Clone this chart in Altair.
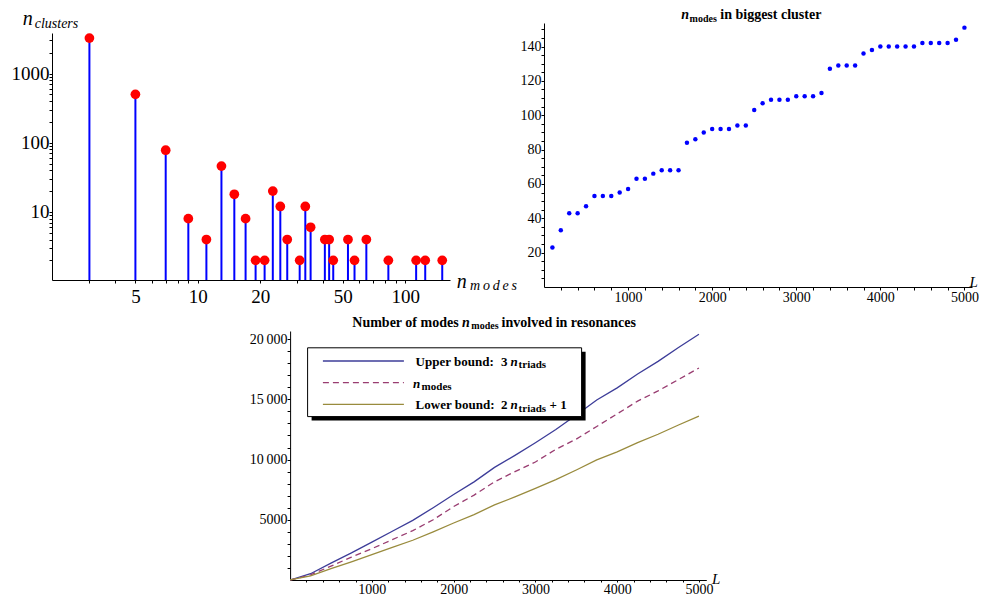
import altair as alt
import pandas as pd

FONT = "Liberation Serif"

# ---------------- Panel A: n_clusters vs n_modes (log-log stem plot)
cluster_modes = [3, 5, 7, 9, 11, 13, 15, 17, 19, 21, 23, 25, 27, 31, 33, 35,
                 41, 43, 45, 53, 57, 65, 83, 113, 125, 151]
cluster_counts = [3250, 500, 78, 8, 4, 46, 18, 8, 2, 2, 20, 12, 4, 2, 12, 6,
                  4, 4, 2, 4, 2, 4, 2, 2, 2, 2]
A_x_major = [5, 10, 20, 50, 100]
A_x_minor = [3, 4, 6, 7, 8, 9, 30, 40, 60, 70, 80, 90]
A_y_major = [10, 100, 1000]
A_y_minor = [2, 3, 4, 5, 6, 7, 8, 9, 20, 30, 40, 50, 60, 70, 80, 90,
             200, 300, 400, 500, 600, 700, 800, 900, 2000, 3000]
A_x_domain = [1.98, 164.6]
A_y_domain = [1.04, 3850]

# ---------------- Panel B: n_modes in biggest cluster vs L
L_steps = [100, 200, 300, 400, 500, 600, 700, 800, 900, 1000,
           1100, 1200, 1300, 1400, 1500, 1600, 1700, 1800, 1900, 2000,
           2100, 2200, 2300, 2400, 2500, 2600, 2700, 2800, 2900, 3000,
           3100, 3200, 3300, 3400, 3500, 3600, 3700, 3800, 3900, 4000,
           4100, 4200, 4300, 4400, 4500, 4600, 4700, 4800, 4900, 5000]
biggest_cluster = [23, 33, 43, 43, 47, 53, 53, 53, 55, 57,
                   63, 63, 66, 68, 68, 68, 84, 86, 90, 92,
                   92, 92, 94, 94, 103, 107, 109, 109, 109, 111,
                   111, 111, 113, 127, 129, 129, 129, 136, 138, 140,
                   140, 140, 140, 140, 142, 142, 142, 142, 144, 151]
B_x_domain = [0, 5090]
B_y_domain = [0, 153.7]
B_x_ticks = [v for v in range(200, 5001, 200)]
B_y_ticks = [v for v in range(5, 151, 5)]

# ---------------- Panel C: number of modes involved in resonances
L_res = [0, 250, 500, 750, 1000, 1250, 1500, 1750, 2000, 2250, 2500,
         2750, 3000, 3250, 3500, 3750, 4000, 4250, 4500, 4750, 5000]
upper_bound = [0, 520, 1400, 2250, 3150, 4050, 4950, 6000, 7100, 8150, 9350,
               10350, 11400, 12500, 13700, 14950, 15950, 17100, 18150, 19300, 20400]
n_modes = [0, 430, 1150, 1900, 2600, 3350, 4100, 5000, 6100, 7050, 8150,
           9000, 9800, 10850, 11700, 12750, 13800, 14850, 15700, 16650, 17600]
lower_bound = [1, 350, 935, 1500, 2100, 2700, 3300, 4000, 4735, 5435, 6235,
               6900, 7600, 8335, 9135, 9970, 10635, 11400, 12100, 12870, 13600]
C_x_domain = [0, 5090]
C_y_domain = [0, 20675]
C_x_ticks = [v for v in range(200, 5001, 200)]
C_y_ticks = [v for v in range(1000, 20001, 1000)]

C_UPPER = "#3d3d99"
C_MODES = "#993d71"
C_LOWER = "#998b3d"

# panel C sits in the second grid column; its plot starts this far left of it
C_SHIFT = -253.9
C_WIDTH = 416.2
C_HEIGHT = 249

one = pd.DataFrame({"k": [0]})


def make_axis(values, test, text_expr, orient, size, pad, offset=0, tick=3):
    return alt.Axis(
        values=values,
        labelExpr=f"({test}) ? ({text_expr}) : ''",
        orient=orient, title=None, grid=False, offset=offset,
        ticks=True, tickSize=tick, tickWidth=1, tickColor="black",
        domain=True, domainColor="black", domainWidth=1,
        labelColor="black", labelFont=FONT, labelFontSize=size,
        labelPadding=pad, labelFlush=False, labelOverlap=False,
    )


def label(x, y, s, size, weight="normal", style="normal", align="left"):
    return alt.Chart(one).mark_text(
        text=s, font=FONT, fontSize=size, fontWeight=weight, fontStyle=style,
        align=align, baseline="alphabetic", color="black",
    ).encode(x=alt.value(x), y=alt.value(y))


def box(x1, y1, x2, y2, fill, stroke=None):
    kw = dict(fill=fill, opacity=1)
    if stroke is not None:
        kw["stroke"] = stroke
        kw["strokeWidth"] = 1
    return alt.Chart(one).mark_rect(**kw).encode(
        x=alt.value(x1), x2=alt.value(x2), y=alt.value(y1), y2=alt.value(y2))


def legend_line(y, color, dash=None):
    kw = dict(color=color, strokeWidth=1.3)
    if dash is not None:
        kw["strokeDash"] = dash
    return alt.Chart(one).mark_rule(**kw).encode(
        x=alt.value(32.8 + C_SHIFT), x2=alt.value(113.8 + C_SHIFT), y=alt.value(y))


def clabel(x, y, s, size, weight="normal", style="normal", align="left"):
    return label(x + C_SHIFT, y, s, size, weight, style, align)


# ---------------- Panel A chart
dfA = pd.DataFrame({"modes": cluster_modes, "count": cluster_counts})
xA = alt.X("modes:Q",
           scale=alt.Scale(type="log", domain=A_x_domain, nice=False),
           axis=make_axis(A_x_major + A_x_minor,
                          f"indexof({A_x_major}, datum.value) >= 0",
                          "'' + datum.value", "bottom", 19, 4.5))
yA = alt.Y("count:Q",
           scale=alt.Scale(type="log", domain=A_y_domain, nice=False, range=[257, 10]),
           axis=make_axis(A_y_major + A_y_minor,
                          f"indexof({A_y_major}, datum.value) >= 0",
                          "'' + datum.value", "left", 19, 0))
stems = alt.Chart(dfA).mark_rule(color="#0000ff", strokeWidth=2).encode(
    x=xA, y=yA, y2=alt.datum(A_y_domain[0]))
dots = alt.Chart(dfA).mark_circle(color="#ff0000", size=95, opacity=1).encode(x=xA, y=yA)
panelA = alt.layer(
    stems, dots,
    label(-29.3, 2, "n", 20, style="italic"),
    label(-17.3, 5, "clusters", 14, style="italic"),
    label(404.7, 265.3, "n", 20, style="italic"),
    label(418, 267, "m\u2009o\u2009d\u2009e\u2009s", 14, style="italic"),
).properties(width=398, height=257)

# ---------------- Panel B chart
dfB = pd.DataFrame({"L": L_steps, "n": biggest_cluster})
ptsB = alt.Chart(dfB).mark_circle(color="#0000ff", size=20, opacity=1).encode(
    x=alt.X("L:Q", scale=alt.Scale(domain=B_x_domain, nice=False, zero=False),
            axis=make_axis(B_x_ticks, "datum.value % 1000 == 0",
                           "'' + datum.value", "bottom", 14, 0)),
    y=alt.Y("n:Q", scale=alt.Scale(domain=B_y_domain, nice=False, zero=False),
            axis=make_axis(B_y_ticks, "datum.value % 20 == 0",
                           "'' + datum.value", "left", 14, 0)),
)
panelB = alt.layer(
    ptsB,
    label(137.3, -4, "n", 14, "bold", "italic"),
    label(145.6, -1.5, "modes", 10, "bold"),
    label(176.3, -4, "in biggest cluster", 14, "bold"),
    label(425.5, 264, "L", 15, style="italic"),
).properties(width=428, height=264)

# ---------------- Panel C chart
dfC = pd.DataFrame({"L": L_res, "upper": upper_bound, "modes": n_modes, "lower": lower_bound})
xC = alt.X("L:Q", scale=alt.Scale(domain=C_x_domain, nice=False, zero=False,
                                  range=[C_SHIFT, C_SHIFT + C_WIDTH]),
           axis=make_axis(C_x_ticks, "datum.value % 1000 == 0",
                          "'' + datum.value", "bottom", 14, 0, tick=2))
y_text = "datum.value >= 10000 ? floor(datum.value / 1000) + '\u2009000' : '' + datum.value"


def yC(field):
    return alt.Y(f"{field}:Q", scale=alt.Scale(domain=C_y_domain, nice=False, zero=False),
                 axis=make_axis(C_y_ticks, "datum.value % 5000 == 0", y_text, "left", 14, 0,
                                offset=-C_SHIFT))


line_up = alt.Chart(dfC).mark_line(color=C_UPPER, strokeWidth=1.3).encode(x=xC, y=yC("upper"))
line_md = alt.Chart(dfC).mark_line(color=C_MODES, strokeWidth=1.3, strokeDash=[6, 4]).encode(x=xC, y=yC("modes"))
line_lo = alt.Chart(dfC).mark_line(color=C_LOWER, strokeWidth=1.3).encode(x=xC, y=yC("lower"))

panelC = alt.layer(
    line_up, line_md, line_lo,
    clabel(168.5, -4.4, "Number of modes", 14, "bold", align="right"),
    clabel(172, -4.4, "n", 14, "bold", "italic"),
    clabel(181.2, -1.9, "modes", 10, "bold"),
    clabel(211.5, -4.4, "involved in resonances", 14, "bold"),
    clabel(421.8, C_HEIGHT + 4.3, "L", 15, style="italic"),
    box(21.5 + C_SHIFT, 20.8, 295.5 + C_SHIFT, 89.6, "black"),
    box(17.5 + C_SHIFT, 16.8, 291.5 + C_SHIFT, 85.6, "white", stroke="black"),
    legend_line(30, C_UPPER),
    legend_line(51.6, C_MODES, [6, 4]),
    legend_line(73.3, C_LOWER),
    clabel(125.5, 34.8, "Upper bound:", 13, "bold"),
    clabel(217.5, 34.8, "3", 13, "bold", align="right"),
    clabel(220.5, 34.8, "n", 13, "bold", "italic"),
    clabel(228.5, 37.3, "triads", 11, "bold"),
    clabel(123, 56.5, "n", 13, "bold", "italic"),
    clabel(131.5, 59, "modes", 11, "bold"),
    clabel(125.5, 78.3, "Lower bound:", 13, "bold"),
    clabel(217.5, 78.3, "2", 13, "bold", align="right"),
    clabel(220.5, 78.3, "n", 13, "bold", "italic"),
    clabel(228.5, 80.8, "triads", 11, "bold"),
    clabel(259.5, 78.3, "+ 1", 13, "bold"),
).properties(width=163, height=C_HEIGHT)

spacer = alt.Chart(one).mark_text(text=" ").encode(
    x=alt.value(0), y=alt.value(0)).properties(width=145, height=C_HEIGHT)

chart = alt.concat(
    panelA, panelB, spacer, panelC,
    columns=2, spacing={"row": 44, "column": 94}, bounds="flush",
).properties(
    padding={"left": 3, "top": 0, "right": 0, "bottom": 0}
).configure_view(stroke=None)

chart.save("out.html", embed_options={"renderer": "svg", "actions": False})
